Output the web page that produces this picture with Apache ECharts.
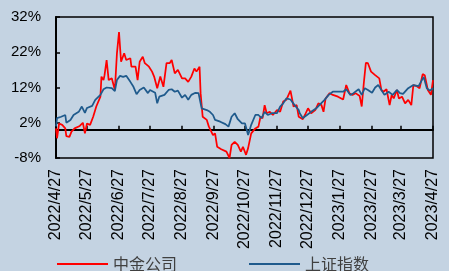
<!DOCTYPE html>
<html>
<head>
<meta charset="utf-8">
<script src="https://cdn.jsdelivr.net/npm/echarts@6/dist/echarts.min.js"></script>
<style>
  html, body { margin: 0; padding: 0; background: #c4d3e2; }
  #chart { width: 449px; height: 271px; }
</style>
</head>
<body>
<div id="chart"></div>
<script>
// 中金公司 (%)
var redDates = [
  "2022/4/27", "2022/4/28", "2022/4/30", "2022/5/3", "2022/5/6", "2022/5/7", "2022/5/10", "2022/5/12",
  "2022/5/15", "2022/5/20", "2022/5/23", "2022/5/25", "2022/5/27", "2022/5/30", "2022/6/2", "2022/6/5",
  "2022/6/9", "2022/6/10", "2022/6/12", "2022/6/13", "2022/6/15", "2022/6/17", "2022/6/20", "2022/6/23",
  "2022/6/25", "2022/6/27", "2022/6/29", "2022/7/2", "2022/7/4", "2022/7/8", "2022/7/9", "2022/7/13",
  "2022/7/15", "2022/7/17", "2022/7/20", "2022/7/22", "2022/7/26", "2022/7/27", "2022/7/29", "2022/7/31",
  "2022/8/3", "2022/8/6", "2022/8/9", "2022/8/12", "2022/8/15", "2022/8/17", "2022/8/20", "2022/8/23",
  "2022/8/27", "2022/8/30", "2022/9/2", "2022/9/5", "2022/9/8", "2022/9/10", "2022/9/13", "2022/9/14",
  "2022/9/16", "2022/9/20", "2022/9/22", "2022/9/26", "2022/9/28", "2022/9/30", "2022/10/4", "2022/10/9",
  "2022/10/12", "2022/10/14", "2022/10/17", "2022/10/20", "2022/10/23", "2022/10/25", "2022/10/28", "2022/10/30",
  "2022/11/2", "2022/11/6", "2022/11/9", "2022/11/11", "2022/11/13", "2022/11/15", "2022/11/17", "2022/11/20",
  "2022/11/23", "2022/11/27", "2022/11/30", "2022/12/3", "2022/12/6", "2022/12/10", "2022/12/13", "2022/12/16",
  "2022/12/18", "2022/12/19", "2022/12/22", "2022/12/24", "2022/12/27", "2022/12/30", "2023/1/3", "2023/1/6",
  "2023/1/9", "2023/1/11", "2023/1/13", "2023/1/17", "2023/1/20", "2023/1/25", "2023/1/30", "2023/2/2",
  "2023/2/5", "2023/2/8", "2023/2/11", "2023/2/15", "2023/2/17", "2023/2/19", "2023/2/21", "2023/2/23",
  "2023/2/26", "2023/3/2", "2023/3/6", "2023/3/8", "2023/3/10", "2023/3/13", "2023/3/16", "2023/3/18",
  "2023/3/20", "2023/3/23", "2023/3/25", "2023/3/28", "2023/3/31", "2023/4/3", "2023/4/6", "2023/4/8",
  "2023/4/11", "2023/4/14", "2023/4/17", "2023/4/19", "2023/4/22", "2023/4/25", "2023/4/27"
];
var redValues = [
  0.4, -2.4, 1.8, 1.4, 0.4, -1.8, -2.0, -0.5,
  0.4, 1.1, 2.0, -1.0, 1.8, 1.4, 3.7, 6.6,
  9.4, 15.1, 14.1, 15.5, 19.8, 14.1, 14.6, 11.3,
  21.7, 27.7, 19.3, 21.7, 19.8, 20.3, 17.9, 17.9,
  14.1, 19.3, 20.7, 18.9, 17.9, 18.4, 16.5, 15.1,
  11.8, 15.1, 12.2, 18.9, 18.9, 19.8, 16.0, 17.0,
  14.6, 14.6, 13.6, 15.1, 17.4, 16.5, 17.9, 10.4,
  3.7, 2.8, 0.9, -1.5, -1.0, -4.8, -5.5, -6.2,
  -8.0, -4.3, -3.4, -4.3, -6.2, -4.8, -7.1, -5.2,
  -1.0, 0.4, 0.9, 3.7, 3.3, 7.0, 4.7, 5.1,
  4.2, 5.6, 5.1, 8.0, 8.5, 11.1, 6.6, 7.0,
  3.7, 4.2, 3.0, 4.2, 6.1, 4.7, 5.6, 7.5,
  7.0, 5.1, 8.9, 10.4, 9.9, 9.4, 8.6, 12.7,
  10.4, 9.9, 10.4, 9.6, 6.6, 13.2, 19.0, 18.9,
  16.5, 15.5, 14.6, 11.3, 10.8, 11.5, 7.0, 9.9,
  8.9, 11.3, 8.9, 9.4, 7.5, 8.5, 7.0, 12.7,
  12.4, 11.8, 15.8, 15.5, 11.3, 9.9, 14.1
];

// 上证指数 (%)
var blueDates = [
  "2022/4/27", "2022/4/28", "2022/5/2", "2022/5/6", "2022/5/7", "2022/5/11", "2022/5/14", "2022/5/19",
  "2022/5/22", "2022/5/25", "2022/5/27", "2022/6/1", "2022/6/4", "2022/6/9", "2022/6/12", "2022/6/15",
  "2022/6/20", "2022/6/23", "2022/6/25", "2022/6/28", "2022/7/1", "2022/7/4", "2022/7/8", "2022/7/11",
  "2022/7/14", "2022/7/17", "2022/7/21", "2022/7/25", "2022/7/27", "2022/8/1", "2022/8/3", "2022/8/5",
  "2022/8/10", "2022/8/14", "2022/8/17", "2022/8/20", "2022/8/23", "2022/8/27", "2022/8/30", "2022/9/2",
  "2022/9/5", "2022/9/9", "2022/9/12", "2022/9/15", "2022/9/20", "2022/9/23", "2022/9/26", "2022/9/28",
  "2022/10/3", "2022/10/8", "2022/10/11", "2022/10/14", "2022/10/17", "2022/10/20", "2022/10/24", "2022/10/27",
  "2022/10/30", "2022/11/2", "2022/11/6", "2022/11/9", "2022/11/12", "2022/11/15", "2022/11/18", "2022/11/22",
  "2022/11/27", "2022/11/30", "2022/12/3", "2022/12/6", "2022/12/10", "2022/12/14", "2022/12/18", "2022/12/19",
  "2022/12/22", "2022/12/26", "2022/12/30", "2023/1/4", "2023/1/7", "2023/1/12", "2023/1/16", "2023/1/20",
  "2023/1/30", "2023/2/2", "2023/2/6", "2023/2/9", "2023/2/14", "2023/2/17", "2023/2/20", "2023/2/23",
  "2023/2/27", "2023/3/2", "2023/3/5", "2023/3/8", "2023/3/11", "2023/3/15", "2023/3/19", "2023/3/23",
  "2023/3/26", "2023/3/29", "2023/4/3", "2023/4/8", "2023/4/13", "2023/4/18", "2023/4/21", "2023/4/24",
  "2023/4/27"
];
var blueValues = [
  1.0, 3.3, 3.7, 4.2, 2.0, 2.8, 4.2, 5.1,
  6.6, 4.8, 6.2, 6.8, 8.5, 9.9, 11.5, 12.0,
  11.8, 11.0, 14.1, 15.3, 15.0, 15.3, 13.6, 12.2,
  10.1, 11.3, 12.0, 10.4, 11.3, 10.5, 7.5, 9.4,
  9.9, 11.3, 11.5, 10.8, 11.1, 9.1, 9.9, 8.5,
  9.9, 10.5, 10.4, 6.1, 5.6, 5.1, 4.2, 2.8,
  2.3, 1.6, 0.9, 3.7, 4.7, 3.0, 1.8, 1.8,
  -1.5, 1.4, 4.2, 4.2, 3.3, 5.1, 4.2, 4.7,
  4.7, 6.6, 7.5, 8.9, 8.6, 7.0, 5.6, 4.7,
  3.3, 4.2, 5.1, 6.1, 7.0, 8.5, 9.9, 10.8,
  10.8, 11.5, 9.9, 10.4, 11.5, 9.9, 11.8, 11.3,
  10.5, 12.0, 12.7, 11.3, 9.9, 10.8, 9.9, 11.3,
  10.4, 10.2, 11.8, 12.7, 12.4, 15.0, 11.8, 11.1,
  11.8
];

var yTicks = [-8, 2, 12, 22, 32];

// calendar days, x = day number from 2022/4/27
var days = [];
var d = new Date(2022, 3, 27, 12);
var end = new Date(2023, 3, 27, 12);
while (d <= end) {
  days.push(d.getFullYear() + "/" + (d.getMonth() + 1) + "/" + d.getDate());
  d.setDate(d.getDate() + 1);
}
var monthTicks = [];
days.forEach(function (s, i) { if (/\/27$/.test(s)) monthTicks.push(i); });
// labels split over two overlaid axes so none get dropped
var evenTicks = monthTicks.filter(function (v, i) { return i % 2 === 0; });
var oddTicks = monthTicks.filter(function (v, i) { return i % 2 === 1; });

function toPairs(dates, values) {
  return dates.map(function (s, i) { return [days.indexOf(s), values[i]]; });
}

var labelStyle = {
  rotate: 90, margin: 11, hideOverlap: false,
  fontSize: 16, color: "#000", fontFamily: "Liberation Sans",
  formatter: function (v) { return days[Math.round(v)]; }
};

var chart = echarts.init(document.getElementById("chart"));
chart.setOption({
  backgroundColor: "#c4d3e2",
  animation: false,
  grid: {
    left: 56, right: 16, top: 17, bottom: 113,
    show: true, borderColor: "#000", borderWidth: 1.5
  },
  legend: {
    left: 57, top: 256, padding: 0,
    itemWidth: 51, itemHeight: 2, itemGap: 72,
    textStyle: { fontSize: 16, color: "#404040", fontFamily: "Noto Sans CJK SC" },
    data: [
      { name: "中金公司", icon: "rect" },
      { name: "上证指数", icon: "rect" }
    ]
  },
  xAxis: [
    {
      type: "value", position: "bottom",
      min: 0, max: days.length - 1,
      axisLine: { lineStyle: { color: "#000", width: 2 } },
      axisTick: { customValues: monthTicks, inside: true, length: 4, lineStyle: { color: "#000", width: 1.5 } },
      axisLabel: Object.assign({ customValues: evenTicks }, labelStyle),
      splitLine: { show: false }
    },
    {
      type: "value", position: "bottom", offset: 0,
      min: 0, max: days.length - 1,
      axisLine: { show: false },
      axisTick: { show: false },
      axisLabel: Object.assign({ customValues: oddTicks }, labelStyle),
      splitLine: { show: false }
    }
  ],
  yAxis: {
    type: "value",
    min: yTicks[0], max: yTicks[yTicks.length - 1], interval: 10,
    axisLine: { show: true, lineStyle: { color: "#000", width: 2 } },
    axisTick: { show: true, inside: true, length: 4, lineStyle: { color: "#000", width: 1.5 } },
    axisLabel: {
      margin: 15, fontSize: 15, color: "#000", fontFamily: "Liberation Sans",
      formatter: function (v) { return v + "%"; }
    },
    splitLine: { show: false }
  },
  series: [
    {
      name: "中金公司", type: "line", symbol: "none",
      lineStyle: { color: "#ff0000", width: 1.75 }, itemStyle: { color: "#ff0000" },
      data: toPairs(redDates, redValues)
    },
    {
      name: "上证指数", type: "line", symbol: "none",
      lineStyle: { color: "#1f5a8c", width: 1.75 }, itemStyle: { color: "#1f5a8c" },
      data: toPairs(blueDates, blueValues)
    }
  ]
});
</script>
</body>
</html>
